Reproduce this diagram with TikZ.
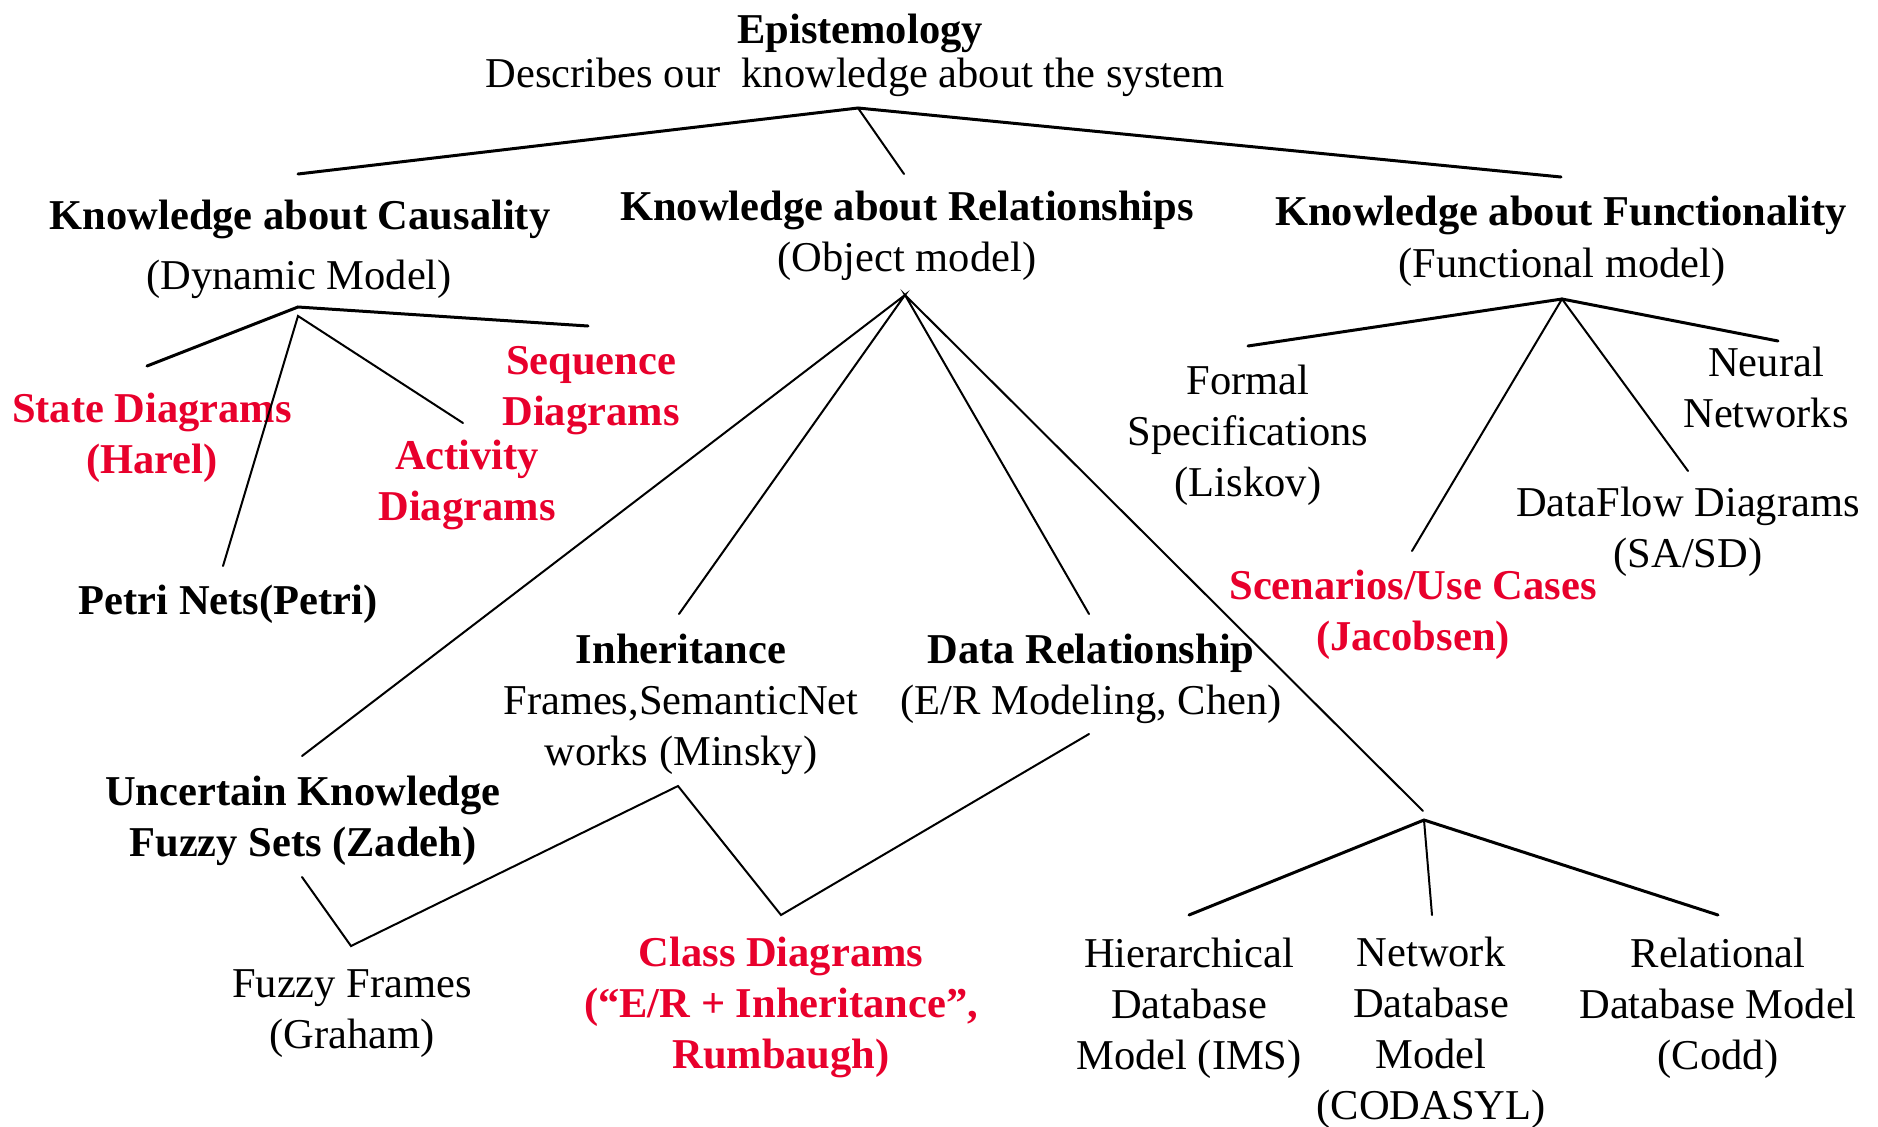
\documentclass[tikz,border=0pt]{standalone}
\usepackage{fontspec}
\setmainfont{Liberation Serif}
\definecolor{redtxt}{RGB}{232,0,44}
\begin{document}
\begin{tikzpicture}[x=0.5pt,y=-0.5pt,
  every node/.style={inner sep=0pt, outer sep=0pt, align=center, anchor=base,
    font=\fontsize{21.25}{25.5}\selectfont},
  hd/.style={font=\fontsize{21.25}{25.5}\selectfont\bfseries},
  rd/.style={hd, text=redtxt},
  bigline/.style={line width=1.5pt, line cap=round},
  smallline/.style={line width=1pt, line cap=round}]
\useasboundingbox (0,0) rectangle (1878,1126);

% ---------- text (multi-line nodes placed by the baseline of their last line) ----------
\node[hd] (epi) at (860,43) {Epistemology};
\node (epid) at (855,87.5) {Describes our\ \ knowledge about the system};

\node[hd] (caus) at (300,229) {Knowledge about Causality};
\node (causm) at (299,289) {(Dynamic Model)};
\node[hd] (rels) at (907,220) {Knowledge about Relationships};
\node (relsm) at (907,271) {(Object model)};
\node[hd] (func) at (1561,225) {Knowledge about Functionality};
\node (funcm) at (1562,277) {(Functional model)};

\node[rd] (state) at (152,473.5) {State Diagrams\\(Harel)};
\node[rd] (seq) at (591,425) {Sequence\\Diagrams};
\node[rd] (act) at (467,520) {Activity\\Diagrams};
\node[hd] (petri) at (228,614) {Petri Nets(Petri)};

\node[hd] (unc) at (303,856) {Uncertain Knowledge\\Fuzzy Sets (Zadeh)};
\node (inh) at (681,765) {\textbf{Inheritance}\\Frames,SemanticNet\\works (Minsky)};
\node (data) at (1091,714) {\textbf{Data Relationship}\\(E/R Modeling, Chen)};
\node (fuzzy) at (352,1048) {Fuzzy Frames\\(Graham)};
\node[rd] (class) at (781,1068.5) {Class Diagrams\\(“E/R + Inheritance”,\\Rumbaugh)};

\node[rd] (scen) at (1413,650) {Scenarios/Use Cases\\(Jacobsen)};
\node (dfd) at (1688,567) {DataFlow Diagrams\\(SA/SD)};
\node (formal) at (1248,496) {Formal\\Specifications\\(Liskov)};
\node (neural) at (1766,427) {Neural\\Networks};

\node (hier) at (1189,1069) {Hierarchical\\Database\\Model (IMS)};
\node (netw) at (1431,1119.5) {Network\\Database\\Model\\(CODASYL)};
\node (rel) at (1718,1069) {Relational\\Database Model\\(Codd)};

% ---------- junctions and line ends ----------
\coordinate (j0) at (858,108);
\coordinate (c0) at (298,174);
\coordinate (r0) at (904,174);
\coordinate (f0) at (1561,177);

\coordinate (jc1) at (298,307);
\coordinate (jc2) at (298,316);
\coordinate (stateE) at (147,366);
\coordinate (seqE) at (588,326);
\coordinate (actE) at (463,423);
\coordinate (petriE) at (223,566);

\coordinate (jr) at (905,295);
\coordinate (uncE) at (302,756);
\coordinate (inhE) at (679,614);
\coordinate (dataE) at (1089,614);
\coordinate (dbE) at (1423,811);

\coordinate (jdb) at (1424,820);
\coordinate (hierE) at (1189,915);
\coordinate (netE) at (1432,915);
\coordinate (relE) at (1718,915);

\coordinate (uncB) at (302,877);
\coordinate (fuzzyT) at (351,946);
\coordinate (inhB) at (678,786);
\coordinate (classT) at (781,915);
\coordinate (dataB) at (1089,734);

\coordinate (jf) at (1562,299);
\coordinate (formalE) at (1248,346);
\coordinate (neuralE) at (1778,341);
\coordinate (scenE) at (1412,551);
\coordinate (dfdE) at (1688,471);

% ---------- connectors ----------
\draw[bigline] (c0) -- (j0) -- (f0);
\draw[smallline] (j0) -- (r0);

\draw[bigline] (stateE) -- (jc1) -- (seqE);
\draw[smallline] (petriE) -- (jc2) -- (actE);

\draw[smallline] (uncE) -- (jr) -- (inhE);
\draw[smallline] (dataE) -- (jr) -- (dbE);

\draw[bigline] (hierE) -- (jdb) -- (relE);
\draw[smallline] (jdb) -- (netE);

\draw[smallline] (uncB) -- (fuzzyT) -- (inhB) -- (classT) -- (dataB);

\draw[bigline] (formalE) -- (jf) -- (neuralE);
\draw[smallline] (scenE) -- (jf) -- (dfdE);
\end{tikzpicture}
\end{document}
